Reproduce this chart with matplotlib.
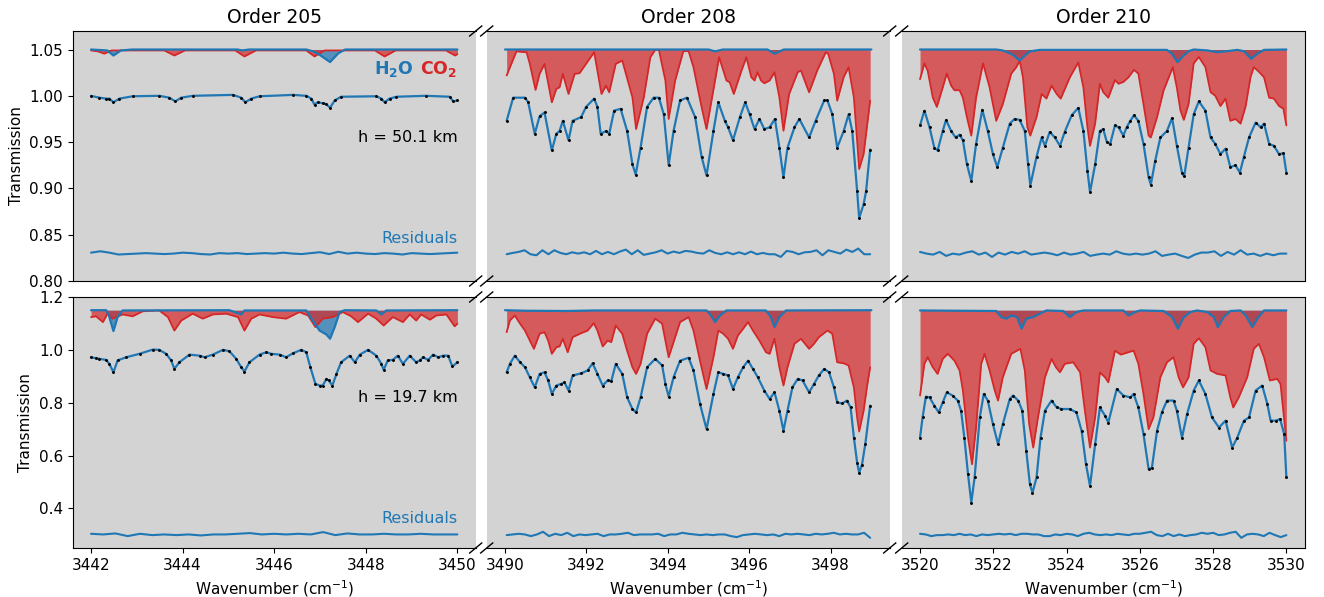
import numpy as np
import matplotlib
matplotlib.use('Agg')
import matplotlib.pyplot as plt

# ---------------- Order 205, h = 50.1 km ----------------
o205_hi_wn = [3442.0, 3442.18, 3442.33, 3442.40, 3442.49, 3442.62, 3442.91, 3443.49, 3443.71, 3443.84,
              3443.97, 3444.22, 3445.10, 3445.28, 3445.37, 3445.50, 3445.68, 3446.41, 3446.70, 3446.81,
              3446.88, 3446.95, 3447.06, 3447.14, 3447.22, 3447.32, 3447.46, 3448.23, 3448.34, 3448.41,
              3448.52, 3448.67, 3449.32, 3449.83, 3449.91, 3450.0]
o205_hi_fit = [1.000, 0.998, 0.997, 0.997, 0.993, 0.997, 0.9995, 1.000, 0.998, 0.994,
               0.998, 1.000, 1.001, 0.998, 0.993, 0.997, 0.9995, 1.001, 1.000, 0.997,
               0.9905, 0.993, 0.992, 0.991, 0.987, 0.995, 0.999, 0.9995, 0.997, 0.993,
               0.997, 0.999, 1.000, 0.999, 0.994, 0.995]
o205_hi_co2_wn = [3442.0, 3442.15, 3442.29, 3442.45, 3443.6, 3443.82, 3444.05, 3445.15, 3445.35, 3445.6,
                  3446.7, 3446.88, 3447.1, 3448.2, 3448.41, 3448.65, 3449.75, 3449.95, 3450.0]
o205_hi_co2 = [1.049, 1.048, 1.0455, 1.049, 1.049, 1.0435, 1.049, 1.049, 1.0425, 1.049,
               1.049, 1.0425, 1.049, 1.049, 1.0425, 1.049, 1.049, 1.0435, 1.045]
o205_hi_h2o_wn = [3442.0, 3442.35, 3442.49, 3442.65, 3442.9, 3445.2, 3445.3, 3445.45, 3446.7, 3446.85,
                  3447.0, 3447.22, 3447.4, 3447.55, 3450.0]
o205_hi_h2o = [1.050, 1.049, 1.0435, 1.049, 1.050, 1.050, 1.049, 1.050, 1.050, 1.048,
               1.044, 1.0365, 1.046, 1.050, 1.050]
o205_hi_res = [1.0, 2.5, 1.0, -1.0, -0.5, 0.0, 0.5, 0.0, -0.5, 0.0, 1.0, 0.5, -0.5, -1.0, 0.5, 0.0,
               0.5, -0.5, 0.0, 0.5, 0.0, 1.0, 0.0, -0.5, 0.5, 1.5, -0.5, 2.0, 0.0, 1.0, 0.0, -0.5,
               0.5, 0.0, -1.0, 0.5, 0.0, -0.5, 0.0, 0.5, 1.0]

# ---------------- Order 208, h = 50.1 km ----------------
o208_hi_wn = [3490.04, 3490.20, 3490.49, 3490.57, 3490.73, 3490.85, 3490.97, 3491.15, 3491.26, 3491.34,
              3491.42, 3491.56, 3491.66, 3491.87, 3491.99, 3492.19, 3492.27, 3492.35, 3492.48, 3492.56,
              3492.68, 3492.84, 3493.00, 3493.13, 3493.21, 3493.33, 3493.49, 3493.65, 3493.78, 3493.90,
              3494.02, 3494.14, 3494.30, 3494.47, 3494.67, 3494.83, 3494.95, 3495.12, 3495.24, 3495.40,
              3495.48, 3495.60, 3495.77, 3495.90, 3496.01, 3496.13, 3496.25, 3496.37, 3496.50, 3496.63,
              3496.74, 3496.84, 3496.94, 3497.11, 3497.23, 3497.47, 3497.63, 3497.84, 3497.92, 3498.04,
              3498.16, 3498.32, 3498.44, 3498.53, 3498.65, 3498.70, 3498.81, 3498.87, 3498.97]
o208_hi_fit = [0.973, 0.998, 0.998, 0.993, 0.959, 0.978, 0.982, 0.941, 0.959, 0.962,
               0.973, 0.952, 0.973, 0.977, 0.988, 0.997, 0.988, 0.959, 0.962, 0.959,
               0.984, 0.986, 0.962, 0.926, 0.915, 0.944, 0.988, 0.998, 0.998, 0.980,
               0.925, 0.962, 0.995, 0.998, 0.977, 0.934, 0.914, 0.962, 0.993, 0.973,
               0.966, 0.952, 0.977, 0.993, 0.980, 0.964, 0.975, 0.964, 0.966, 0.975,
               0.944, 0.912, 0.944, 0.966, 0.975, 0.955, 0.973, 0.995, 0.995, 0.980,
               0.944, 0.962, 0.980, 0.962, 0.897, 0.868, 0.883, 0.897, 0.942]
o208_hi_co2_wn = [3490.04, 3490.28, 3490.53, 3490.61, 3490.75, 3490.85, 3490.97, 3491.15, 3491.26, 3491.34,
                  3491.42, 3491.56, 3491.71, 3491.83, 3491.99, 3492.19, 3492.37, 3492.48, 3492.56, 3492.72,
                  3492.88, 3493.13, 3493.22, 3493.41, 3493.57, 3493.69, 3493.78, 3493.94, 3494.02, 3494.18,
                  3494.38, 3494.51, 3494.63, 3494.83, 3494.95, 3495.16, 3495.26, 3495.44, 3495.52, 3495.62,
                  3495.81, 3495.93, 3496.05, 3496.13, 3496.20, 3496.29, 3496.37, 3496.50, 3496.62, 3496.74,
                  3496.84, 3496.98, 3497.19, 3497.27, 3497.47, 3497.67, 3497.88, 3497.94, 3498.08, 3498.16,
                  3498.32, 3498.44, 3498.57, 3498.65, 3498.70, 3498.81, 3498.89, 3498.97]
o208_hi_co2 = [1.022, 1.048, 1.047, 1.0345, 1.0064, 1.0237, 1.0345, 0.993, 1.0074, 1.0092,
               1.0237, 1.002, 1.0237, 1.0244, 1.0345, 1.0471, 1.002, 1.011, 1.0038, 1.0345,
               1.0381, 0.9984, 0.9641, 0.9984, 1.0417, 1.0496, 1.0496, 1.0165, 0.975, 1.0165,
               1.0482, 1.0482, 1.0309, 0.9876, 0.9641, 1.0165, 1.0417, 1.0165, 1.0146, 1.002,
               1.0273, 1.0417, 1.0201, 1.0165, 1.0255, 1.0165, 1.0136, 1.0165, 1.0255, 0.9984,
               0.9623, 1.002, 1.0255, 1.0273, 1.0038, 1.0273, 1.0471, 1.0453, 1.0237, 0.9948,
               1.0201, 1.0309, 0.9984, 0.9515, 0.9209, 0.9371, 0.9659, 0.9948]
o208_hi_h2o_wn = [3490.0, 3495.0, 3495.16, 3495.35, 3496.45, 3496.62, 3496.85, 3499.0]
o208_hi_h2o = [1.050, 1.050, 1.048, 1.050, 1.050, 1.0455, 1.050, 1.050]
o208_hi_res = [-0.7, 0.7, 1.8, 3.6, -0.7, -1.8, 3.6, -0.7, 3.6, 0.7, -0.7, 1.4, 0.0, 1.4, -0.7, 2.9,
               -0.7, 1.8, -0.7, 2.2, 4.3, -0.7, 3.6, -1.4, 0.0, 1.4, 3.6, 0.0, 2.2, 0.7, 2.9, 2.2,
               0.7, 0.0, 3.6, 0.7, -0.7, 1.4, -0.7, 1.4, -0.7, 2.2, -0.7, 0.7, -0.7, -0.7, -3.6, 2.9,
               1.8, -0.7, 1.4, 1.8, 3.6, -1.8, 3.6, 1.8, 0.0, 4.3, 1.8, 5.4, -0.7, -0.7]

# ---------------- Order 210, h = 50.1 km ----------------
o210_hi_wn = [3520.00, 3520.12, 3520.26, 3520.39, 3520.48, 3520.62, 3520.71, 3520.85, 3520.97, 3521.08,
              3521.17, 3521.28, 3521.40, 3521.53, 3521.70, 3521.85, 3521.99, 3522.11, 3522.26, 3522.45,
              3522.58, 3522.72, 3522.86, 3522.95, 3523.01, 3523.18, 3523.32, 3523.41, 3523.54, 3523.68,
              3523.82, 3523.95, 3524.14, 3524.32, 3524.46, 3524.57, 3524.64, 3524.78, 3524.91, 3525.00,
              3525.10, 3525.19, 3525.32, 3525.42, 3525.55, 3525.64, 3525.74, 3525.84, 3525.96, 3526.10,
              3526.24, 3526.30, 3526.42, 3526.56, 3526.74, 3526.88, 3527.01, 3527.15, 3527.21, 3527.33,
              3527.47, 3527.61, 3527.79, 3527.93, 3528.06, 3528.20, 3528.34, 3528.47, 3528.61, 3528.73,
              3528.84, 3528.98, 3529.16, 3529.30, 3529.39, 3529.53, 3529.66, 3529.80, 3529.92, 3530.00]
o210_hi_fit = [0.968, 0.984, 0.966, 0.944, 0.941, 0.962, 0.974, 0.962, 0.955, 0.958,
               0.952, 0.926, 0.908, 0.948, 0.985, 0.962, 0.937, 0.923, 0.944, 0.970,
               0.975, 0.974, 0.962, 0.926, 0.903, 0.934, 0.955, 0.946, 0.961, 0.955,
               0.946, 0.961, 0.979, 0.987, 0.962, 0.919, 0.896, 0.926, 0.962, 0.964,
               0.950, 0.948, 0.968, 0.966, 0.957, 0.966, 0.973, 0.979, 0.973, 0.948,
               0.912, 0.904, 0.930, 0.955, 0.962, 0.976, 0.946, 0.917, 0.913, 0.944,
               0.980, 0.994, 0.984, 0.955, 0.948, 0.937, 0.943, 0.923, 0.925, 0.917,
               0.934, 0.955, 0.971, 0.966, 0.970, 0.948, 0.946, 0.937, 0.938, 0.917]
o210_hi_co2_wn = [3520.00, 3520.12, 3520.21, 3520.35, 3520.46, 3520.62, 3520.73, 3520.85, 3520.94, 3521.08,
                  3521.17, 3521.28, 3521.40, 3521.53, 3521.72, 3521.90, 3522.08, 3522.26, 3522.49, 3522.63,
                  3522.72, 3522.81, 3522.93, 3523.01, 3523.18, 3523.32, 3523.45, 3523.59, 3523.73, 3523.84,
                  3524.09, 3524.32, 3524.46, 3524.57, 3524.64, 3524.78, 3524.91, 3525.00, 3525.14, 3525.32,
                  3525.42, 3525.55, 3525.69, 3525.84, 3525.96, 3526.10, 3526.24, 3526.30, 3526.47, 3526.65,
                  3526.90, 3527.01, 3527.11, 3527.20, 3527.33, 3527.47, 3527.61, 3527.79, 3527.93, 3528.06,
                  3528.20, 3528.34, 3528.47, 3528.61, 3528.75, 3528.89, 3529.02, 3529.11, 3529.25, 3529.39,
                  3529.53, 3529.66, 3529.80, 3529.92, 3530.00]
o210_hi_co2 = [1.018, 1.035, 1.027, 0.998, 0.988, 1.009, 1.024, 1.011, 1.006, 1.006,
               0.998, 0.977, 0.957, 0.998, 1.035, 1.009, 0.973, 0.991, 1.024, 1.031,
               1.038, 1.020, 0.966, 0.957, 0.977, 1.002, 0.997, 1.011, 1.002, 0.997,
               1.020, 1.036, 1.009, 0.966, 0.946, 0.970, 1.013, 1.004, 0.998, 1.017,
               1.013, 1.015, 1.020, 1.028, 1.024, 0.991, 0.957, 0.955, 0.977, 1.006,
               1.031, 1.009, 0.984, 0.974, 0.991, 1.035, 1.042, 1.031, 1.004, 1.000,
               0.989, 0.997, 0.973, 0.975, 0.970, 0.989, 1.020, 1.031, 1.026, 1.020,
               0.998, 0.997, 0.989, 0.986, 0.968]
o210_hi_h2o_wn = [3520.0, 3522.08, 3522.26, 3522.53, 3522.72, 3522.86, 3523.0, 3523.27, 3526.74, 3526.88,
                  3527.03, 3527.15, 3527.33, 3527.47, 3527.84, 3528.11, 3528.38, 3528.66, 3528.84, 3529.04,
                  3529.2, 3529.39, 3530.0]
o210_hi_h2o = [1.050, 1.050, 1.049, 1.0445, 1.038, 1.0435, 1.048, 1.0496, 1.0496, 1.0453,
               1.0363, 1.0417, 1.0482, 1.050, 1.049, 1.0471, 1.0482, 1.0496, 1.0482, 1.0399,
               1.0453, 1.0496, 1.050]
o210_hi_res = [1.8, 0.0, -1.1, 1.8, -2.5, 0.0, -1.1, 1.1, 2.5, -1.1, 1.1, -3.6, 1.1, -1.1, 1.8, 0.0,
               2.5, -1.1, 0.0, 1.1, 0.0, -1.8, 1.1, -1.1, 0.0, 1.8, -2.5, -1.1, 0.0, -1.1, 2.5, 0.0,
               -1.1, 0.0, -1.1, 0.0, 2.5, -2.5, -1.1, 0.0, -2.5, -4.7, -1.1, 1.1, 1.1, 2.5, -2.5, 1.8,
               -1.1, 3.6, -1.1, 0.0, -2.5, 0.0, -1.8, 0.0, 0.0]

# ---------------- Order 205, h = 19.7 km ----------------
o205_lo_wn = [3442.0, 3442.11, 3442.18, 3442.33, 3442.40, 3442.49, 3442.58, 3442.77, 3443.06, 3443.35,
              3443.49, 3443.64, 3443.75, 3443.82, 3443.93, 3444.15, 3444.37, 3444.48, 3444.66, 3444.88,
              3445.02, 3445.17, 3445.28, 3445.35, 3445.46, 3445.68, 3445.83, 3445.93, 3446.12, 3446.26,
              3446.41, 3446.59, 3446.70, 3446.79, 3446.90, 3446.99, 3447.06, 3447.14, 3447.19, 3447.27,
              3447.36, 3447.46, 3447.65, 3447.76, 3447.87, 3448.05, 3448.23, 3448.34, 3448.39, 3448.48,
              3448.59, 3448.70, 3448.81, 3448.96, 3449.10, 3449.18, 3449.25, 3449.36, 3449.47, 3449.58,
              3449.69, 3449.80, 3449.89, 3450.0]
o205_lo_fit = [0.972, 0.968, 0.966, 0.962, 0.947, 0.915, 0.960, 0.972, 0.985, 1.001,
               1.000, 0.985, 0.960, 0.928, 0.953, 0.982, 0.978, 0.972, 0.982, 1.000,
               0.995, 0.966, 0.934, 0.918, 0.953, 0.982, 0.991, 0.985, 0.982, 0.972,
               0.987, 1.000, 0.991, 0.934, 0.871, 0.865, 0.865, 0.890, 0.884, 0.865,
               0.909, 0.953, 0.978, 0.953, 0.982, 1.000, 0.978, 0.947, 0.924, 0.960,
               0.962, 0.978, 0.947, 0.978, 0.953, 0.960, 0.972, 0.962, 0.982, 0.972,
               0.978, 0.978, 0.937, 0.953]
o205_lo_co2_wn = [3442.0, 3442.11, 3442.26, 3442.36, 3442.47, 3442.69, 3442.91, 3443.13, 3443.49, 3443.68,
                  3443.82, 3443.97, 3444.22, 3444.44, 3444.66, 3444.95, 3445.21, 3445.35, 3445.50, 3445.68,
                  3445.97, 3446.26, 3446.55, 3446.74, 3446.90, 3447.06, 3447.28, 3447.50, 3447.68, 3447.83,
                  3448.05, 3448.23, 3448.39, 3448.59, 3448.81, 3448.96, 3449.10, 3449.21, 3449.40, 3449.54,
                  3449.76, 3449.94, 3450.0]
o205_lo_co2 = [1.124, 1.127, 1.105, 1.137, 1.118, 1.134, 1.127, 1.146, 1.149, 1.124,
               1.073, 1.111, 1.137, 1.118, 1.134, 1.137, 1.124, 1.073, 1.118, 1.134,
               1.124, 1.118, 1.143, 1.130, 1.086, 1.118, 1.124, 1.143, 1.127, 1.105,
               1.137, 1.118, 1.092, 1.124, 1.105, 1.134, 1.111, 1.134, 1.114, 1.130,
               1.134, 1.089, 1.099]
o205_lo_h2o_wn = [3442.0, 3442.33, 3442.39, 3442.49, 3442.58, 3442.69, 3445.02, 3445.17, 3445.28, 3445.35,
                  3446.70, 3446.84, 3446.99, 3447.14, 3447.22, 3447.32, 3447.43, 3447.54, 3448.23, 3448.34,
                  3448.45, 3450.0]
o205_lo_h2o = [1.150, 1.150, 1.130, 1.071, 1.124, 1.149, 1.150, 1.141, 1.134, 1.149,
               1.149, 1.111, 1.073, 1.058, 1.042, 1.086, 1.143, 1.150, 1.149, 1.134,
               1.149, 1.150]
o205_lo_res = [2.5, 0.0, 3.8, -6.3, 2.5, -2.5, 0.0, -2.5, 0.0, -3.8, 0.0, 0.0, 2.5, 5.1, 0.0, 2.5,
               0.0, 2.5, 0.0, 8.9, -2.5, 3.8, 0.0, 0.0, 2.5, 0.0, 0.0, 2.5, 0.0, 0.0, 0.0]

# ---------------- Order 208, h = 19.7 km ----------------
o208_lo_wn = [3490.04, 3490.12, 3490.24, 3490.37, 3490.49, 3490.61, 3490.73, 3490.85, 3490.97, 3491.06,
              3491.15, 3491.26, 3491.38, 3491.46, 3491.56, 3491.66, 3491.87, 3492.03, 3492.15, 3492.27,
              3492.40, 3492.52, 3492.61, 3492.72, 3492.88, 3493.00, 3493.13, 3493.22, 3493.33, 3493.49,
              3493.69, 3493.86, 3493.94, 3494.02, 3494.14, 3494.30, 3494.51, 3494.63, 3494.79, 3494.95,
              3495.12, 3495.24, 3495.36, 3495.48, 3495.60, 3495.72, 3495.85, 3495.97, 3496.09, 3496.21,
              3496.37, 3496.50, 3496.62, 3496.74, 3496.84, 3496.94, 3497.06, 3497.19, 3497.31, 3497.47,
              3497.59, 3497.71, 3497.84, 3497.96, 3498.08, 3498.16, 3498.28, 3498.40, 3498.49, 3498.57,
              3498.65, 3498.70, 3498.77, 3498.85, 3498.97]
o208_lo_fit = [0.915, 0.947, 0.978, 0.953, 0.934, 0.896, 0.858, 0.909, 0.915, 0.884,
               0.833, 0.865, 0.871, 0.877, 0.846, 0.903, 0.911, 0.922, 0.949, 0.909,
               0.865, 0.884, 0.881, 0.947, 0.909, 0.820, 0.776, 0.763, 0.820, 0.934,
               0.966, 0.941, 0.871, 0.823, 0.896, 0.959, 0.970, 0.922, 0.795, 0.700,
               0.833, 0.915, 0.909, 0.903, 0.852, 0.896, 0.934, 0.959, 0.928, 0.896,
               0.846, 0.814, 0.839, 0.770, 0.694, 0.770, 0.858, 0.890, 0.884, 0.839,
               0.871, 0.903, 0.928, 0.915, 0.858, 0.801, 0.797, 0.808, 0.782, 0.668,
               0.573, 0.535, 0.566, 0.643, 0.789]
o208_lo_co2_wn = [3490.04, 3490.12, 3490.24, 3490.37, 3490.49, 3490.61, 3490.71, 3490.85, 3490.97, 3491.06,
                  3491.15, 3491.26, 3491.34, 3491.42, 3491.54, 3491.66, 3491.87, 3492.03, 3492.18, 3492.27,
                  3492.40, 3492.52, 3492.61, 3492.72, 3492.88, 3493.00, 3493.13, 3493.22, 3493.33, 3493.49,
                  3493.69, 3493.86, 3493.94, 3494.02, 3494.14, 3494.30, 3494.51, 3494.63, 3494.79, 3494.95,
                  3495.12, 3495.24, 3495.36, 3495.48, 3495.60, 3495.72, 3495.85, 3495.97, 3496.09, 3496.25,
                  3496.41, 3496.50, 3496.62, 3496.74, 3496.84, 3496.94, 3497.11, 3497.27, 3497.47, 3497.59,
                  3497.71, 3497.92, 3498.04, 3498.16, 3498.32, 3498.44, 3498.57, 3498.65, 3498.70, 3498.81,
                  3498.89, 3498.97]
o208_lo_co2 = [1.067, 1.111, 1.130, 1.099, 1.073, 1.035, 1.004, 1.061, 1.067, 1.035,
               0.985, 1.010, 1.013, 1.042, 0.991, 1.048, 1.063, 1.073, 1.101, 1.073,
               1.013, 1.035, 1.029, 1.092, 1.061, 0.997, 0.934, 0.909, 0.947, 1.061,
               1.118, 1.099, 1.035, 0.972, 1.029, 1.105, 1.124, 1.073, 0.959, 0.852,
               0.972, 1.073, 1.061, 1.042, 1.004, 1.054, 1.080, 1.105, 1.073, 1.035,
               0.991, 0.985, 1.042, 0.934, 0.865, 0.934, 1.023, 1.042, 1.004, 1.023,
               1.048, 1.073, 1.061, 0.953, 0.949, 0.941, 0.858, 0.744, 0.691, 0.770,
               0.858, 0.934]
o208_lo_h2o_wn = [3490.0, 3490.5, 3491.5, 3492.2, 3494.95, 3495.06, 3495.16, 3495.28, 3495.44, 3496.41,
                  3496.53, 3496.62, 3496.74, 3496.90, 3499.0]
o208_lo_h2o = [1.150, 1.148, 1.147, 1.149, 1.149, 1.130, 1.105, 1.130, 1.149, 1.149,
               1.124, 1.086, 1.124, 1.149, 1.150]
o208_lo_res = [-2.5, 0.0, 2.5, 0.0, -6.3, 0.0, 10.1, -6.3, 2.5, -2.5, 6.3, -6.3, 0.0, -2.5, 0.0, 2.5,
               -6.3, 0.0, 0.0, 2.5, 6.3, -2.5, 0.0, 0.0, 0.0, 2.5, -6.3, 0.0, 0.0, 6.3, 2.5, 0.0,
               -2.5, 0.0, -2.5, 0.0, 0.0, -6.3, -10.1, -2.5, 0.0, 2.5, 0.0, -2.5, 0.0, -6.3, 2.5, 0.0,
               2.5, 0.0, -2.5, 2.5, 0.0, 2.5, 6.3, 0.0, 2.5, 0.0, 0.0, 6.3, -12.7]

# ---------------- Order 210, h = 19.7 km ----------------
o210_lo_wn = [3520.00, 3520.07, 3520.16, 3520.26, 3520.39, 3520.51, 3520.62, 3520.73, 3520.89, 3521.03,
              3521.12, 3521.21, 3521.31, 3521.40, 3521.49, 3521.63, 3521.74, 3521.85, 3521.99, 3522.13,
              3522.26, 3522.45, 3522.54, 3522.68, 3522.79, 3522.90, 3523.00, 3523.07, 3523.18, 3523.29,
              3523.41, 3523.59, 3523.73, 3523.86, 3524.09, 3524.27, 3524.41, 3524.53, 3524.64, 3524.78,
              3524.91, 3525.05, 3525.14, 3525.37, 3525.55, 3525.74, 3525.83, 3525.96, 3526.10, 3526.24,
              3526.33, 3526.47, 3526.60, 3526.74, 3526.92, 3527.01, 3527.15, 3527.29, 3527.47, 3527.61,
              3527.79, 3527.97, 3528.16, 3528.34, 3528.52, 3528.66, 3528.84, 3528.98, 3529.16, 3529.34,
              3529.48, 3529.57, 3529.71, 3529.83, 3529.94, 3530.00]
o210_lo_fit = [0.668, 0.744, 0.823, 0.820, 0.789, 0.763, 0.801, 0.839, 0.827, 0.808,
               0.770, 0.668, 0.529, 0.422, 0.517, 0.744, 0.833, 0.808, 0.719, 0.643,
               0.719, 0.814, 0.827, 0.808, 0.770, 0.618, 0.491, 0.459, 0.517, 0.668,
               0.770, 0.808, 0.782, 0.776, 0.776, 0.763, 0.694, 0.567, 0.485, 0.643,
               0.782, 0.751, 0.725, 0.852, 0.827, 0.820, 0.833, 0.782, 0.681, 0.548,
               0.554, 0.694, 0.763, 0.808, 0.808, 0.770, 0.668, 0.757, 0.846, 0.884,
               0.833, 0.744, 0.706, 0.732, 0.630, 0.668, 0.732, 0.744, 0.846, 0.865,
               0.795, 0.732, 0.732, 0.738, 0.681, 0.517]
o210_lo_co2_wn = [3520.00, 3520.12, 3520.21, 3520.35, 3520.48, 3520.62, 3520.76, 3520.94, 3521.08, 3521.17,
                  3521.31, 3521.42, 3521.53, 3521.67, 3521.76, 3521.90, 3522.04, 3522.13, 3522.26, 3522.49,
                  3522.74, 3522.86, 3522.98, 3523.09, 3523.22, 3523.41, 3523.59, 3523.71, 3523.82, 3523.95,
                  3524.18, 3524.37, 3524.50, 3524.64, 3524.78, 3524.91, 3525.05, 3525.14, 3525.32, 3525.48,
                  3525.83, 3525.96, 3526.10, 3526.24, 3526.37, 3526.56, 3526.74, 3526.92, 3527.06, 3527.18,
                  3527.33, 3527.47, 3527.61, 3527.79, 3527.93, 3528.11, 3528.34, 3528.47, 3528.55, 3528.70,
                  3528.93, 3529.11, 3529.25, 3529.39, 3529.55, 3529.75, 3529.84, 3530.00]
o210_lo_co2 = [0.827, 0.947, 0.972, 0.934, 0.909, 0.966, 0.985, 0.959, 0.922, 0.846,
               0.668, 0.567, 0.706, 0.947, 0.985, 0.922, 0.846, 0.808, 0.896, 0.985,
               1.004, 0.922, 0.719, 0.630, 0.744, 0.896, 0.966, 0.934, 0.915, 0.947,
               0.953, 0.915, 0.770, 0.630, 0.744, 0.915, 0.896, 0.877, 0.997, 0.982,
               0.997, 0.947, 0.833, 0.700, 0.744, 0.896, 0.953, 0.972, 0.896, 0.858,
               0.896, 1.023, 1.044, 1.010, 0.922, 0.909, 0.903, 0.820, 0.782, 0.820,
               0.896, 1.004, 1.023, 0.972, 0.884, 0.890, 0.871, 0.656]
o210_lo_h2o_wn = [3520.0, 3522.08, 3522.22, 3522.36, 3522.49, 3522.65, 3522.77, 3522.90, 3523.09, 3523.27,
                  3523.45, 3523.91, 3524.09, 3524.27, 3524.46, 3525.55, 3525.69, 3525.87, 3526.01, 3526.65,
                  3526.88, 3527.04, 3527.20, 3527.38, 3527.56, 3527.84, 3528.02, 3528.13, 3528.29, 3528.47,
                  3528.75, 3528.89, 3529.07, 3529.21, 3529.39, 3530.0]
o210_lo_h2o = [1.149, 1.147, 1.124, 1.118, 1.130, 1.124, 1.080, 1.118, 1.124, 1.137,
               1.149, 1.147, 1.124, 1.143, 1.149, 1.149, 1.130, 1.143, 1.149, 1.147,
               1.124, 1.080, 1.124, 1.143, 1.149, 1.143, 1.124, 1.086, 1.124, 1.147,
               1.149, 1.130, 1.086, 1.118, 1.149, 1.149]
o210_lo_res = [2.5, 0.0, -6.3, -2.5, -2.5, 0.0, -2.5, 2.5, -2.5, 0.0, -6.3, 0.0, -2.5, 0.0, 2.5, 0.0,
               2.5, -2.5, 2.5, 2.5, 0.0, 0.0, -6.3, -6.3, 0.0, -2.5, 2.5, 0.0, -6.3, 2.5, 6.3, 0.0,
               -2.5, 0.0, -2.5, 2.5, 0.0, -2.5, 2.5, 2.5, 6.3, 10.1, -2.5, -6.3, 2.5, -6.3, 0.0, -6.3,
               -2.5, 0.0, 6.3, 2.5, 6.3, -2.5, 0.0, 6.3, 10.1, -12.7, 0.0, 2.5, 0.0, -6.3, 6.3, -2.5,
               -10.1, -2.5]

orders = ['Order 205', 'Order 208', 'Order 210']
altitudes = ['h = 50.1 km', 'h = 19.7 km']

panels = [
    [(o205_hi_wn, o205_hi_fit, o205_hi_co2_wn, o205_hi_co2, o205_hi_h2o_wn, o205_hi_h2o, o205_hi_res),
     (o208_hi_wn, o208_hi_fit, o208_hi_co2_wn, o208_hi_co2, o208_hi_h2o_wn, o208_hi_h2o, o208_hi_res),
     (o210_hi_wn, o210_hi_fit, o210_hi_co2_wn, o210_hi_co2, o210_hi_h2o_wn, o210_hi_h2o, o210_hi_res)],
    [(o205_lo_wn, o205_lo_fit, o205_lo_co2_wn, o205_lo_co2, o205_lo_h2o_wn, o205_lo_h2o, o205_lo_res),
     (o208_lo_wn, o208_lo_fit, o208_lo_co2_wn, o208_lo_co2, o208_lo_h2o_wn, o208_lo_h2o, o208_lo_res),
     (o210_lo_wn, o210_lo_fit, o210_lo_co2_wn, o210_lo_co2, o210_lo_h2o_wn, o210_lo_h2o, o210_lo_res)],
]

# layout (pixels of a 1324x597 canvas)
W, H = 1324, 597
col_x = [72.7, 486.7, 901.7]
col_w = 403.0
row_y = [(31, 281), (297, 548)]
xlims = [(3441.6, 3450.4), (3489.55, 3499.45), (3519.5, 3530.5)]
xticks = [np.arange(3442, 3451, 2), np.arange(3490, 3499, 2), np.arange(3520, 3531, 2)]
ylims = [(0.80, 1.07), (0.25, 1.20)]
bases = [1.05, 1.15]
res_levels = [0.8296, 0.3013]

fig = plt.figure(figsize=(W / 100, H / 100), dpi=100)

line_kw = dict(solid_joinstyle='round', solid_capstyle='round')
d, dy = 0.015, 0.02
for r in range(2):
    top, bot = row_y[r]
    for c in range(3):
        ax = fig.add_axes([col_x[c] / W, 1 - bot / H, col_w / W, (bot - top) / H])
        wn, fit, co2_wn, co2, h2o_wn, h2o, res = panels[r][c]
        base = bases[r]
        ax.set_facecolor('lightgray')
        ax.fill_between(h2o_wn, base, h2o, color='tab:blue', alpha=0.7, lw=0)
        ax.fill_between(co2_wn, base, co2, color='tab:red', alpha=0.7, lw=0)
        ax.plot(co2_wn, co2, color='tab:red', lw=1.3, **line_kw)
        ax.plot(h2o_wn, h2o, color='tab:blue', lw=1.6, **line_kw)
        ax.plot(wn, fit, color='tab:blue', lw=1.6, **line_kw)
        ax.plot(wn, fit, '.', color='k', ms=2.2)
        res_wn = np.linspace(wn[0], wn[-1], len(res))
        ax.plot(res_wn, res_levels[r] + np.array(res) * 1e-3, color='tab:blue', lw=1.5, **line_kw)

        ax.set_xlim(xlims[c])
        ax.set_ylim(ylims[r])
        ax.set_xticks(xticks[c])
        ax.tick_params(labelsize=11)
        if r == 0:
            ax.set_title(orders[c], fontsize=13.5)
            ax.tick_params(axis='x', bottom=False, labelbottom=False)
        else:
            ax.set_xlabel('Wavenumber (cm$^{-1}$)', fontsize=11)
        if c == 0:
            ax.set_ylabel('Transmission', fontsize=11)
            ax.spines['right'].set_visible(False)
        else:
            ax.tick_params(axis='y', left=False, labelleft=False)
            ax.spines['left'].set_visible(False)
        if c == 1:
            ax.spines['right'].set_visible(False)

        # broken-axis marks between the columns
        kw = dict(transform=ax.transAxes, color='k', clip_on=False, lw=1)
        if c < 2:
            ax.plot([1 - d, 1 + d], [-dy, dy], **kw)
            ax.plot([1 - d, 1 + d], [1 - dy, 1 + dy], **kw)
        if c > 0:
            ax.plot([-d, d], [-dy, dy], **kw)
            ax.plot([-d, d], [1 - dy, 1 + dy], **kw)

        if c == 0:
            if r == 0:
                ax.text(3450, 0.955, altitudes[0], ha='right', va='center', fontsize=11.5)
                ax.text(3450, 0.8455, 'Residuals', ha='right', va='center', fontsize=11.5, color='tab:blue')
                ax.text(3449.05, 1.0237, r'H$_\mathbf{2}$O', ha='right', va='baseline', fontsize=12.5,
                        fontweight='bold', color='tab:blue')
                ax.text(3450, 1.0237, r'CO$_\mathbf{2}$', ha='right', va='baseline', fontsize=12.5,
                        fontweight='bold', color='tab:red')
            else:
                ax.text(3450, 0.820, altitudes[1], ha='right', va='center', fontsize=11.5)
                ax.text(3450, 0.361, 'Residuals', ha='right', va='center', fontsize=11.5, color='tab:blue')

fig.savefig('out.png', dpi=100)
